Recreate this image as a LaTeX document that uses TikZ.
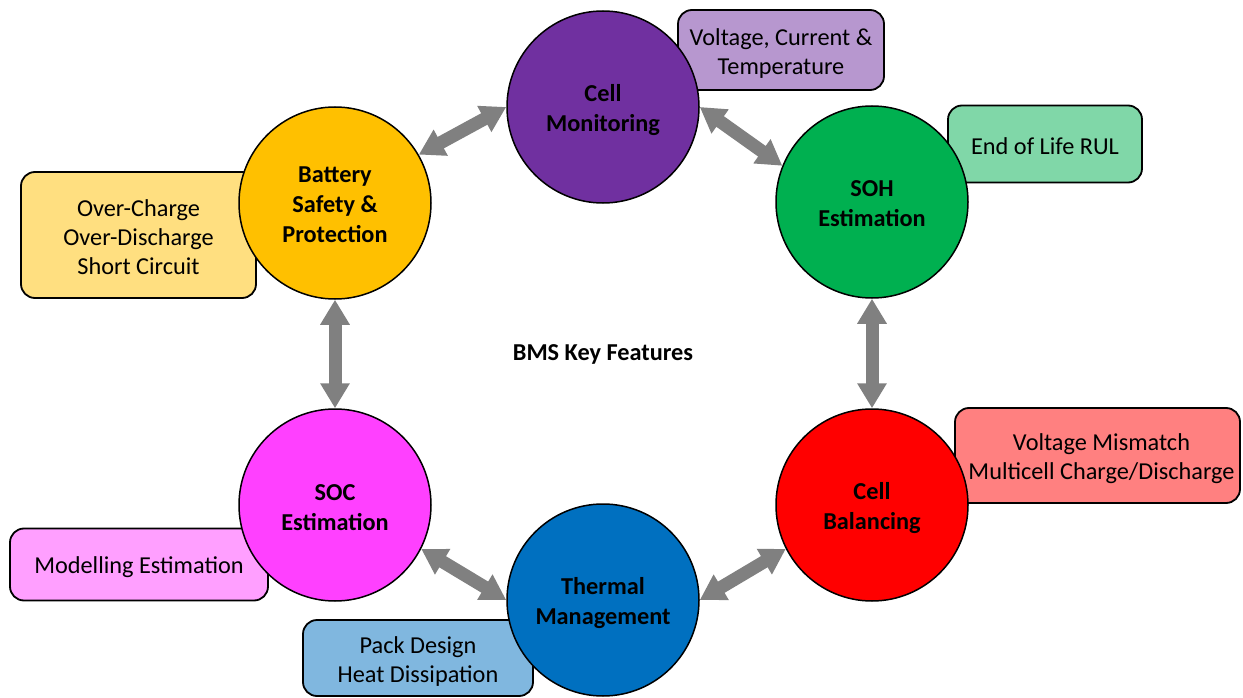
\documentclass[tikz,border=0pt]{standalone}
\usepackage{fontspec}
\setmainfont{Carlito}
\usetikzlibrary{arrows.meta}
\definecolor{cmC}{HTML}{7030A0}
\definecolor{bsC}{HTML}{FFC000}
\definecolor{sohC}{HTML}{00B050}
\definecolor{cbC}{HTML}{FF0000}
\definecolor{tmC}{HTML}{0070C0}
\definecolor{socC}{HTML}{FF40FF}
\definecolor{arrC}{HTML}{808080}
\tikzset{
  feat/.style={circle, draw=black, line width=1.5pt, minimum size=192pt, inner sep=0pt},
  feattext/.style={align=center, inner sep=0pt, font=\fontsize{24.3}{30}\selectfont\bfseries},
  infobox/.style={draw=black, line width=1.8pt, rounded corners=14pt, inner sep=0pt},
  infotext/.style={align=center, inner sep=0pt, font=\fontsize{24.3}{29}\selectfont},
  link/.style={draw=arrC, line width=13pt, {Triangle[length=25pt,width=28pt]}-{Triangle[length=25pt,width=28pt]}}
}
\begin{document}
\begin{tikzpicture}[x=1pt,y=1pt]
\useasboundingbox[fill=white] (0,0) rectangle (1243,-698);
% info boxes (behind circles)
\node[infobox, fill=cmC!50, minimum width=206pt, minimum height=80pt] (b1) at (781,-50) {};
\node[infobox, fill=sohC!50, minimum width=194pt, minimum height=77pt] (b2) at (1045,-144) {};
\node[infobox, fill=bsC!50, minimum width=235pt, minimum height=126pt] (b3) at (138.5,-235) {};
\node[infobox, fill=cbC!50, minimum width=285pt, minimum height=95pt] (b4) at (1097.5,-455.5) {};
\node[infobox, fill=socC!50, minimum width=258pt, minimum height=72pt] (b5) at (139,-564.5) {};
\node[infobox, fill=tmC!50, minimum width=230pt, minimum height=76pt] (b6) at (418,-658) {};
\node[infotext] (b1t) at ([yshift=-4pt]b1.center) {Voltage, Current \&\\Temperature};
\node[infotext] (b2t) at ([yshift=-2pt]b2.center) {End of Life RUL};
\node[infotext] (b3t) at ([yshift=-2pt]b3.center) {Over-Charge\\Over-Discharge\\Short Circuit};
\node[infotext] (b4t) at ([yshift=-3pt,xshift=4pt]b4.center) {Voltage Mismatch\\Multicell Charge/Discharge};
\node[infotext] (b5t) at ([yshift=-3pt]b5.center) {Modelling Estimation};
\node[infotext] (b6t) at ([yshift=-4pt]b6.center) {Pack Design\\Heat Dissipation};
% feature circles
\node[feat, fill=cmC] (cm) at (603,-107) {};
\node[feat, fill=bsC] (bs) at (335,-203) {};
\node[feat, fill=sohC] (soh) at (872,-202) {};
\node[feat, fill=cbC] (cb) at (872,-505) {};
\node[feat, fill=tmC] (tm) at (603,-600) {};
\node[feat, fill=socC] (soc) at (335,-505) {};
\node[feattext] (cmt) at ([yshift=-3pt]cm.center) {Cell\\Monitoring};
\node[feattext] (bst) at ([yshift=-2pt]bs.center) {Battery\\Safety \&\\Protection};
\node[feattext] (soht) at ([yshift=-2pt]soh.center) {SOH\\Estimation};
\node[feattext] (cbt) at ([yshift=-3pt]cb.center) {Cell\\Balancing};
\node[feattext] (tmt) at ([yshift=-3pt]tm.center) {Thermal\\Management};
\node[feattext] (soct) at ([yshift=-3pt]soc.center) {SOC\\Estimation};
% centre title
\node[font=\fontsize{24.3}{29}\selectfont\bfseries, inner sep=0pt] (title) at (603,-354) {BMS Key Features};
% connectors
\draw[link] (bs.30) -- (cm.180);
\draw[link] (cm.0) -- (soh.158);
\draw[link] (soh.south) -- (cb.north);
\draw[link] (tm.0) -- (cb.207);
\draw[link] (soc.333) -- (tm.180);
\draw[link] (bs.south) -- (soc.north);
\end{tikzpicture}
\end{document}
